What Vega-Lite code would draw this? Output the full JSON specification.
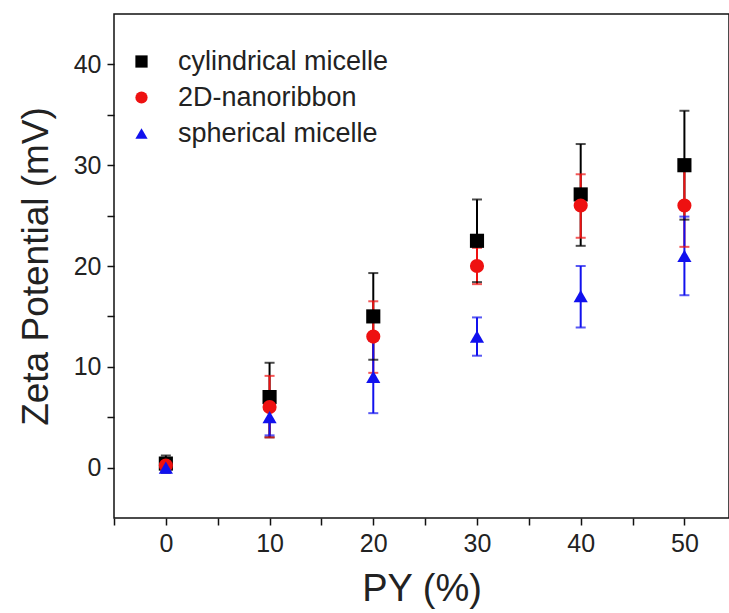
{
  "$schema": "https://vega.github.io/schema/vega-lite/v6.json",
  "autosize": {"type": "none"},
  "padding": {"left": 114, "top": 14, "right": 0, "bottom": 95},
  "width": 615,
  "height": 504,
  "background": "white",
  "config": {
    "view": {"stroke": "#111", "strokeWidth": 1.5},
    "font": "Liberation Sans",
    "axis": {
      "domain": false,
      "grid": false,
      "ticks": true,
      "tickColor": "#111",
      "tickWidth": 1.5,
      "tickSize": 7,
      "labelColor": "#222",
      "titleColor": "#222",
      "labelFont": "Liberation Sans",
      "titleFont": "Liberation Sans",
      "titleFontWeight": "normal"
    }
  },
  "data": {
    "values": [
      {"series": "cylindrical micelle", "py": 0, "zeta": 0.4, "lo": -0.5, "hi": 1.2},
      {"series": "cylindrical micelle", "py": 10, "zeta": 7.0, "lo": 3.0, "hi": 10.4},
      {"series": "cylindrical micelle", "py": 20, "zeta": 15.0, "lo": 10.7, "hi": 19.3},
      {"series": "cylindrical micelle", "py": 30, "zeta": 22.5, "lo": 18.4, "hi": 26.6},
      {"series": "cylindrical micelle", "py": 40, "zeta": 27.1, "lo": 22.0, "hi": 32.1},
      {"series": "cylindrical micelle", "py": 50, "zeta": 30.0, "lo": 24.6, "hi": 35.4},
      {"series": "2D-nanoribbon", "py": 0, "zeta": 0.2, "lo": -0.4, "hi": 0.8},
      {"series": "2D-nanoribbon", "py": 10, "zeta": 6.0, "lo": 3.0, "hi": 9.1},
      {"series": "2D-nanoribbon", "py": 20, "zeta": 13.0, "lo": 9.4, "hi": 16.5},
      {"series": "2D-nanoribbon", "py": 30, "zeta": 20.0, "lo": 18.2, "hi": 21.8},
      {"series": "2D-nanoribbon", "py": 40, "zeta": 26.0, "lo": 22.8, "hi": 29.1},
      {"series": "2D-nanoribbon", "py": 50, "zeta": 26.0, "lo": 21.9, "hi": 30.0},
      {"series": "spherical micelle", "py": 0, "zeta": 0.0, "lo": -0.5, "hi": 0.6},
      {"series": "spherical micelle", "py": 10, "zeta": 5.0, "lo": 3.2, "hi": 6.8},
      {"series": "spherical micelle", "py": 20, "zeta": 9.0, "lo": 5.4, "hi": 12.6},
      {"series": "spherical micelle", "py": 30, "zeta": 13.0, "lo": 11.1, "hi": 14.9},
      {"series": "spherical micelle", "py": 40, "zeta": 17.0, "lo": 13.9, "hi": 20.0},
      {"series": "spherical micelle", "py": 50, "zeta": 21.0, "lo": 17.1, "hi": 24.9}
    ]
  },
  "encoding": {
    "x": {
      "field": "py",
      "type": "quantitative",
      "scale": {"domain": [-5, 54.3], "nice": false, "zero": false},
      "axis": {
        "title": "PY (%)",
        "titleFontSize": 38,
        "titlePadding": 14,
        "labelFontSize": 25,
        "labelPadding": 6,
        "values": [-5, 0, 5, 10, 15, 20, 25, 30, 35, 40, 45, 50],
        "labelExpr": "datum.value % 10 === 0 ? datum.label : ''"
      }
    },
    "y": {
      "field": "zeta",
      "type": "quantitative",
      "scale": {"domain": [-5, 45], "nice": false, "zero": false},
      "axis": {
        "title": "Zeta Potential (mV)",
        "titleFontSize": 37,
        "titlePadding": 18,
        "labelFontSize": 25,
        "labelPadding": 6,
        "values": [0, 5, 10, 15, 20, 25, 30, 35, 40],
        "labelExpr": "datum.value % 10 === 0 ? datum.label : ''"
      }
    },
    "color": {
      "field": "series",
      "type": "nominal",
      "title": null,
      "scale": {
        "domain": ["cylindrical micelle", "2D-nanoribbon", "spherical micelle"],
        "range": ["#000000", "#ee1111", "#1111ee"]
      },
      "legend": {
        "orient": "none",
        "legendX": 14,
        "legendY": 34,
        "labelFontSize": 27,
        "labelFont": "Liberation Sans",
        "labelColor": "#222",
        "labelOffset": 23,
        "labelLimit": 500,
        "symbolSize": 150,
        "symbolOpacity": 1,
        "symbolStrokeWidth": 0,
        "rowPadding": 8
      }
    }
  },
  "layer": [
    {
      "mark": {"type": "rule", "strokeWidth": 2},
      "encoding": {
        "y": {"field": "lo", "type": "quantitative"},
        "y2": {"field": "hi"}
      }
    },
    {
      "mark": {"type": "tick", "orient": "horizontal", "size": 10, "thickness": 2},
      "encoding": {"y": {"field": "lo", "type": "quantitative"}}
    },
    {
      "mark": {"type": "tick", "orient": "horizontal", "size": 10, "thickness": 2},
      "encoding": {"y": {"field": "hi", "type": "quantitative"}}
    },
    {
      "mark": {"type": "point", "filled": true, "opacity": 1},
      "encoding": {
        "shape": {
          "field": "series",
          "type": "nominal",
          "title": null,
          "scale": {
            "domain": ["cylindrical micelle", "2D-nanoribbon", "spherical micelle"],
            "range": ["square", "circle", "triangle-up"]
          },
          "legend": {
            "orient": "none",
            "legendX": 14,
            "legendY": 34,
            "labelFontSize": 27,
            "labelFont": "Liberation Sans",
            "labelColor": "#222",
            "labelOffset": 23,
            "labelLimit": 500,
            "symbolSize": 150,
            "symbolOpacity": 1,
            "symbolStrokeWidth": 0,
            "rowPadding": 8
          }
        },
        "size": {"value": 200}
      }
    }
  ]
}
